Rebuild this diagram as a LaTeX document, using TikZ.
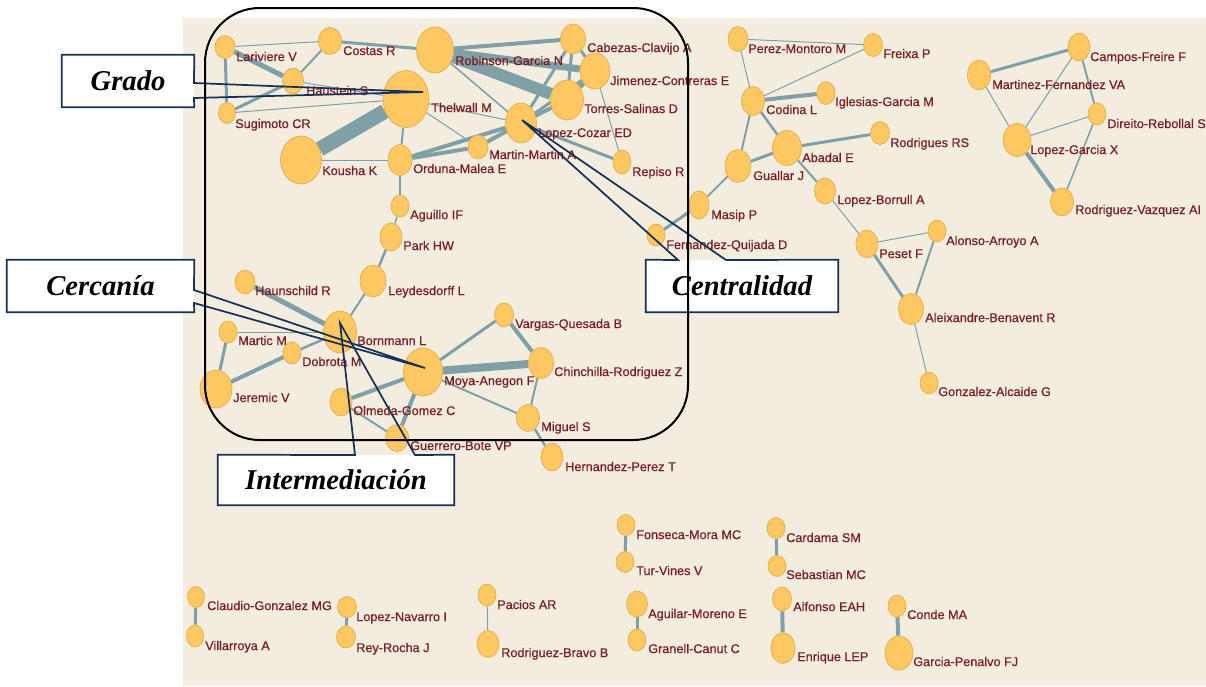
\documentclass[tikz,border=0pt]{standalone}
\usepackage{fontspec}
\setmainfont{Liberation Serif}
\setsansfont{Liberation Sans}
\newfontfamily\labfont[FakeBold=0.6]{Liberation Sans}
\usetikzlibrary{shapes.geometric}

\definecolor{paper}{RGB}{243,237,223}
\definecolor{nodefill}{RGB}{253,200,98}
\definecolor{nodeline}{RGB}{226,172,74}
\definecolor{edgecol}{RGB}{128,160,168}
\definecolor{labcol}{RGB}{125,28,36}
\definecolor{navy}{RGB}{22,50,88}

\pgfdeclarelayer{back}
\pgfdeclarelayer{links}
\pgfsetlayers{back,links,main}

\tikzset{
  author/.style={ellipse, fill=nodefill, draw=nodeline, line width=0.5pt, inner sep=0pt},
  link/.style={draw=edgecol, line width=#1*0.75pt},
  name tag/.style={anchor=mid west, inner sep=0pt, text=labcol,
    font=\labfont\fontsize{9.5}{10}\selectfont},
  tagbox/.style={fill=white, inner sep=0pt,
    font=\rmfamily\bfseries\itshape\fontsize{21.5}{24}\selectfont},
  tagline/.style={draw=navy, line width=1.3pt, line join=miter},
  frame/.style={draw=black, line width=1.5pt, rounded corners=41pt}
}

% author node: name, x, y, width, height (px), label x, label y, label text
\newcommand\autnode[8]{%
  \node[author, minimum width=#4*0.75pt, minimum height=#5*0.75pt] (#1) at (#2,#3) {};
  \node[name tag] (#1-t) at (#6,#7) {#8};}
% co-authorship link: from, to, width (px)
\newcommand\lk[3]{\draw[link=#3] (#1) -- (#2);}

\begin{document}
\begin{tikzpicture}[x=0.75pt,y=-0.75pt]
\useasboundingbox (0,0) rectangle (1206,686);
\begin{pgfonlayer}{back}
  \fill[white] (0,0) rectangle (1206,686);
  \fill[paper] (183,18) rectangle (1206,686);
\end{pgfonlayer}

% ---- main component, upper part
\autnode{lar}{225}{47}{20}{23}{236}{58}{Lariviere V}
\autnode{cos}{330}{41}{23}{27}{343}{52}{Costas R}
\autnode{rob}{435}{50}{37}{46}{455}{62}{Robinson-Garcia N}
\autnode{cab}{573}{39}{25}{30}{587}{49}{Cabezas-Clavijo A}
\autnode{jim}{595}{71}{30}{36}{610}{82}{Jimenez-Contreras E}
\autnode{tor}{567}{100}{33}{40}{584}{110}{Torres-Salinas D}
\autnode{hau}{293}{81}{21}{26}{306}{92}{Haustein S}
\autnode{the}{406}{99}{46}{57}{431}{109}{Thelwall M}
\autnode{sug}{227}{113}{17}{21}{235}{125}{Sugimoto CR}
\autnode{loc}{521}{123}{31}{40}{538}{134}{Lopez-Cozar ED}
\autnode{kou}{301}{160}{41}{48}{322}{172}{Kousha K}
\autnode{ord}{400}{160}{24}{31}{413}{170}{Orduna-Malea E}
\autnode{mar}{478}{147}{20}{24}{489}{156}{Martin-Martin A}
\autnode{rep}{622}{162}{18}{24}{632}{173}{Repiso R}

% ---- main component, lower part
\autnode{agu}{400}{206}{18}{22}{410}{216}{Aguillo IF}
\autnode{par}{391}{237}{22}{28}{403}{247}{Park HW}
\autnode{ley}{373}{281}{26}{32}{388}{292}{Leydesdorff L}
\autnode{hsc}{245}{282}{20}{24}{255}{292}{Haunschild R}
\autnode{bor}{340}{332}{33}{42}{357}{342}{Bornmann L}
\autnode{mtc}{228}{332}{18}{22}{238}{342}{Martic M}
\autnode{dob}{292}{353}{18}{22}{302}{363}{Dobrota M}
\autnode{jer}{216}{389}{32}{38}{233}{399}{Jeremic V}
\autnode{moy}{423}{372}{39}{48}{444}{382}{Moya-Anegon F}
\autnode{var}{504}{315}{19}{24}{515}{325}{Vargas-Quesada B}
\autnode{chi}{541}{363}{25}{31}{554}{373}{Chinchilla-Rodriguez Z}
\autnode{olm}{341}{402}{22}{28}{353}{412}{Olmeda-Gomez C}
\autnode{gue}{397}{438}{23}{27}{410}{447}{Guerrero-Bote VP}
\autnode{mig}{528}{418}{23}{27}{541}{428}{Miguel S}
\autnode{her}{552}{457}{22}{28}{565}{468}{Hernandez-Perez T}

% ---- documentation group
\autnode{pmo}{738}{39}{20}{25}{748}{50}{Perez-Montoro M}
\autnode{fre}{873}{45}{19}{23}{883}{55}{Freixa P}
\autnode{cod}{753}{101}{23}{29}{766}{111}{Codina L}
\autnode{igl}{826}{93}{18}{23}{835}{103}{Iglesias-Garcia M}
\autnode{rrs}{880}{133}{19}{23}{890}{144}{Rodrigues RS}
\autnode{aba}{787}{148}{29}{35}{802}{159}{Abadal E}
\autnode{gua}{738}{166}{26}{33}{753}{177}{Guallar J}
\autnode{lbo}{825}{191}{21}{26}{837}{201}{Lopez-Borrull A}
\autnode{mas}{699}{205}{20}{28}{711}{216}{Masip P}
\autnode{fqu}{656}{235}{18}{22}{666}{246}{Fernandez-Quijada D}
\autnode{pes}{867}{244}{22}{28}{879}{255}{Peset F}
\autnode{alo}{937}{231}{18}{22}{946}{242}{Alonso-Arroyo A}
\autnode{ale}{911}{309}{25}{31}{925}{319}{Aleixandre-Benavent R}
\autnode{gon}{929}{383}{18}{22}{938}{393}{Gonzalez-Alcaide G}

% ---- communication group
\autnode{mfe}{979}{75}{23}{30}{992}{86}{Martinez-Fernandez VA}
\autnode{cam}{1079}{47}{22}{28}{1090}{58}{Campos-Freire F}
\autnode{dir}{1097}{114}{18}{22}{1107}{125}{Direito-Rebollal S}
\autnode{lgx}{1017}{140}{28}{33}{1030}{151}{Lopez-Garcia X}
\autnode{rva}{1062}{202}{23}{28}{1075}{211}{Rodriguez-Vazquez AI}

% ---- isolated pairs
\autnode{cla}{196}{597}{17}{21}{207}{607}{Claudio-Gonzalez MG}
\autnode{vil}{195}{636}{17}{22}{205}{647}{Villarroya A}
\autnode{lna}{347}{607}{19}{21}{356}{618}{Lopez-Navarro I}
\autnode{rey}{346}{637}{19}{22}{356}{649}{Rey-Rocha J}
\autnode{pac}{487}{595}{18}{22}{497}{606}{Pacios AR}
\autnode{rbr}{488}{644}{22}{27}{501}{654}{Rodriguez-Bravo B}
\autnode{fon}{626}{525}{18}{21}{636}{536}{Fonseca-Mora MC}
\autnode{tur}{625}{562}{18}{21}{636}{572}{Tur-Vines V}
\autnode{agm}{637}{604}{21}{26}{648}{615}{Aguilar-Moreno E}
\autnode{gra}{637}{640}{18}{22}{648}{650}{Granell-Canut C}
\autnode{car}{776}{528}{18}{21}{786}{539}{Cardama SM}
\autnode{seb}{777}{566}{18}{21}{786}{576}{Sebastian MC}
\autnode{alf}{782}{599}{19}{24}{793}{608}{Alfonso EAH}
\autnode{enr}{783}{648}{24}{31}{797}{658}{Enrique LEP}
\autnode{con}{897}{606}{18}{22}{907}{616}{Conde MA}
\autnode{gpe}{899}{653}{28}{34}{913}{663}{Garcia-Penalvo FJ}

\begin{pgfonlayer}{links}
  \lk{lar}{cos}{1}   \lk{lar}{sug}{3}   \lk{lar}{hau}{5}
  \lk{hau}{cos}{2}   \lk{hau}{sug}{3}   \lk{hau}{the}{1}
  \lk{sug}{the}{1}   \lk{cos}{rob}{3}
  \lk{rob}{tor}{12}  \lk{rob}{jim}{7}   \lk{rob}{cab}{4}   \lk{rob}{loc}{1.5}
  \lk{cab}{jim}{3}   \lk{cab}{tor}{3}   \lk{cab}{loc}{3}
  \lk{jim}{tor}{5}   \lk{jim}{loc}{3}   \lk{jim}{rep}{1}
  \lk{tor}{loc}{4}   \lk{tor}{mar}{2}
  \lk{loc}{ord}{4}   \lk{loc}{mar}{4}   \lk{loc}{rep}{3}   \lk{loc}{the}{1}
  \lk{mar}{ord}{4}
  \lk{the}{kou}{15}  \lk{the}{ord}{2}   \lk{the}{mar}{1}   \lk{kou}{ord}{1}
  \lk{ord}{agu}{2}   \lk{agu}{par}{1.5} \lk{par}{ley}{2.5} \lk{ley}{bor}{2}
  \lk{hsc}{bor}{5}   \lk{bor}{dob}{2.5} \lk{mtc}{bor}{1}
  \lk{mtc}{jer}{3}   \lk{dob}{jer}{4}
  \lk{moy}{chi}{8}   \lk{moy}{var}{3}   \lk{var}{chi}{4}
  \lk{moy}{olm}{4}   \lk{moy}{gue}{4}   \lk{moy}{mig}{2}
  \lk{chi}{mig}{2}   \lk{olm}{gue}{2}   \lk{mig}{her}{2.5}
  \lk{pmo}{fre}{1}   \lk{pmo}{cod}{1}   \lk{fre}{cod}{1}
  \lk{cod}{igl}{4}   \lk{cod}{gua}{2}   \lk{cod}{aba}{2.5}
  \lk{gua}{aba}{3}   \lk{aba}{rrs}{3}   \lk{aba}{lbo}{2}
  \lk{gua}{mas}{2}   \lk{mas}{fqu}{3}
  \lk{lbo}{pes}{1}   \lk{pes}{alo}{1}   \lk{pes}{ale}{3}
  \lk{alo}{ale}{2}   \lk{ale}{gon}{1}
  \lk{mfe}{cam}{3}   \lk{mfe}{lgx}{1}   \lk{cam}{lgx}{1}
  \lk{cam}{dir}{2}   \lk{dir}{lgx}{1}   \lk{dir}{rva}{1.5}
  \lk{lgx}{rva}{4}
  \lk{cla}{vil}{3}   \lk{lna}{rey}{3}   \lk{pac}{rbr}{1}
  \lk{fon}{tur}{3}   \lk{agm}{gra}{3}   \lk{car}{seb}{3}
  \lk{alf}{enr}{4}   \lk{con}{gpe}{4}
\end{pgfonlayer}

% ---- callouts for the centrality measures
\node[tagbox, minimum width=132*0.75pt, minimum height=52*0.75pt] (grado) at (128,81) {Grado};
\coordinate (gradoA) at (194,83);
\coordinate (gradoB) at (194,98);
\coordinate (gradoTip) at (423,92);
\draw[tagline] (grado.north west) -- (grado.north east) -- (gradoA) -- (gradoTip)
  -- (gradoB) -- (grado.south east) -- (grado.south west) -- cycle;

\node[tagbox, minimum width=187*0.75pt, minimum height=52*0.75pt] (cerca) at (100.5,286) {Cercanía};
\coordinate (cercaA) at (194,290);
\coordinate (cercaB) at (194,303);
\coordinate (cercaTip) at (425,368);
\draw[tagline] (cerca.north west) -- (cerca.north east) -- (cercaA) -- (cercaTip)
  -- (cercaB) -- (cerca.south east) -- (cerca.south west) -- cycle;

\node[tagbox, minimum width=236*0.75pt, minimum height=50*0.75pt] (inter) at (336,480) {Intermediación};
\coordinate (interA) at (355,455);
\coordinate (interB) at (415,455);
\coordinate (interTip) at (340,323);
\draw[tagline] (inter.north west) -- (interA) -- (interTip) -- (interB)
  -- (inter.north east) -- (inter.south east) -- (inter.south west) -- cycle;

\node[tagbox, minimum width=192*0.75pt, minimum height=52*0.75pt] (centr) at (742,286) {Centralidad};
\coordinate (centrA) at (678,260);
\coordinate (centrB) at (726,260);
\coordinate (centrTip) at (522,120);
\draw[tagline] (centr.north west) -- (centrA) -- (centrTip) -- (centrB)
  -- (centr.north east) -- (centr.south east) -- (centr.south west) -- cycle;

% ---- frame round the main component
\draw[frame] (205,8) rectangle (688,440);
\end{tikzpicture}
\end{document}
